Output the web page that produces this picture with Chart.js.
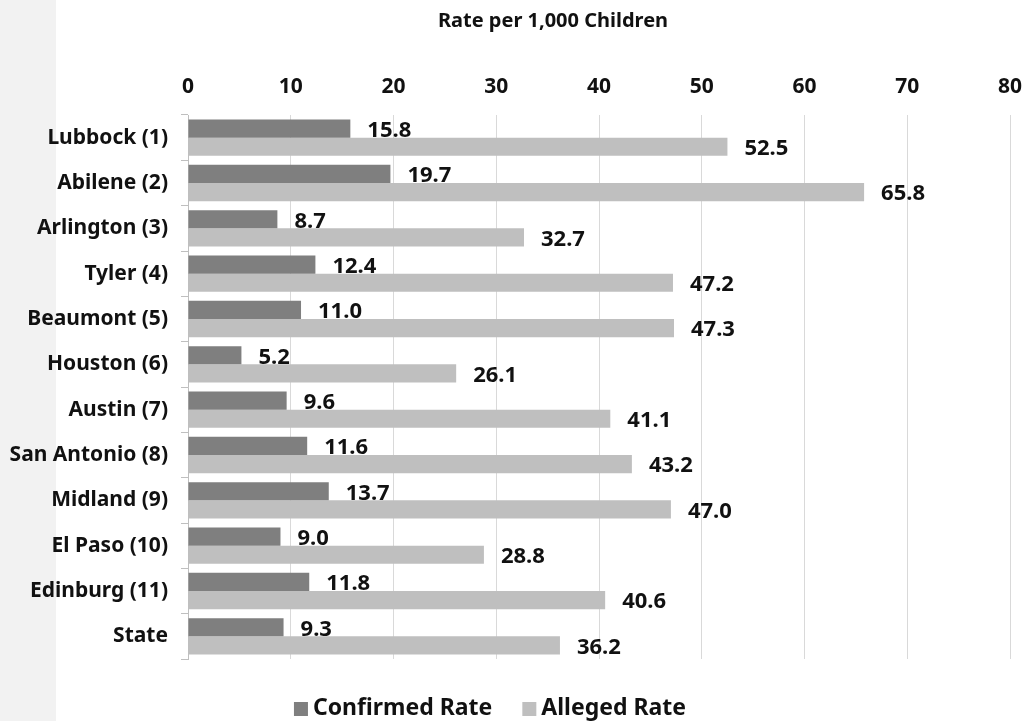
<!DOCTYPE html>
<html>
<head>
<meta charset="utf-8">
<title>Rate per 1,000 Children</title>
<script src="https://cdn.jsdelivr.net/npm/chart.js@4"></script>
<style>
  html, body { margin: 0; padding: 0; background: #fff; overflow: hidden; }
  #wrap { position: relative; width: 1026px; height: 721px; }
</style>
</head>
<body>
<div id="wrap"><canvas id="rateChart"></canvas></div>
<script>
// regions and rates
const regions = ['Lubbock (1)', 'Abilene (2)', 'Arlington (3)', 'Tyler (4)', 'Beaumont (5)', 'Houston (6)',
    'Austin (7)', 'San Antonio (8)', 'Midland (9)', 'El Paso (10)', 'Edinburg (11)', 'State'];
const confirmedRate = [15.8, 19.7, 8.7, 12.4, 11.0, 5.2, 9.6, 11.6, 13.7, 9.0, 11.8, 9.3];
const allegedRate = [52.5, 65.8, 32.7, 47.2, 47.3, 26.1, 41.1, 43.2, 47.0, 28.8, 40.6, 36.2];
const seriesNames = ['Confirmed Rate', 'Alleged Rate'];
const axisTitle = 'Rate per 1,000 Children';
const tickValues = [0, 10, 20, 30, 40, 50, 60, 70, 80];

const FONT = "'Noto Sans', 'DejaVu Sans', sans-serif";
const TEXT = '#111';

// gray strip on the left, title on top, legend at the bottom
const decorPlugin = {
    id: 'decor',
    beforeDraw(chart) {
        const c = chart.ctx;
        c.save();
        c.fillStyle = '#f2f2f2';
        c.fillRect(0, 0, 56, chart.height);
        c.restore();
    },
    afterDraw(chart) {
        const c = chart.ctx;
        c.save();
        c.fillStyle = TEXT;
        c.font = 'bold 20px ' + FONT;
        c.textAlign = 'center';
        c.textBaseline = 'alphabetic';
        c.fillText(axisTitle, 553, 27);

        // legend
        c.font = 'bold 23px ' + FONT;
        c.textAlign = 'left';
        const box = 14, gap = 5, between = 30;
        const items = chart.data.datasets.map(ds => ({ label: ds.label, color: ds.backgroundColor }));
        let total = 0;
        items.forEach((it, i) => {
            it.w = box + gap + c.measureText(it.label).width;
            total += it.w + (i ? between : 0);
        });
        let x = 490 - total / 2;
        items.forEach(it => {
            c.fillStyle = it.color;
            c.fillRect(x, 702, box, box);
            c.fillStyle = TEXT;
            c.fillText(it.label, x + box + gap, 715);
            x += it.w + between;
        });
        c.restore();
    }
};

function drawValues(chart, dsIndex, dy) {
    const c = chart.ctx;
    const meta = chart.getDatasetMeta(dsIndex);
    const values = chart.data.datasets[dsIndex].data;
    c.save();
    c.fillStyle = TEXT;
    c.font = 'bold 22px ' + FONT;
    c.textAlign = 'left';
    c.textBaseline = 'middle';
    meta.data.forEach((bar, i) => {
        c.fillText(values[i].toFixed(1), bar.x + 17, bar.y + dy);
    });
    c.restore();
}

// confirmed labels go under the alleged bars, alleged labels on top
const valueLabels = {
    id: 'valueLabels',
    beforeDatasetsDraw(chart) { drawValues(chart, 0, 2); },
    afterDatasetsDraw(chart) { drawValues(chart, 1, 2); }
};

const ctx = document.getElementById('rateChart').getContext('2d');
const rateChart = new Chart(ctx, {
    type: 'bar',
    data: {
        labels: regions,
        datasets: [
            { label: seriesNames[0], data: confirmedRate, backgroundColor: '#7f7f7f' },
            { label: seriesNames[1], data: allegedRate, backgroundColor: '#bfbfbf' }
        ]
    },
    options: {
        indexAxis: 'y',
        responsive: true,
        maintainAspectRatio: false,
        animation: false,
        datasets: { bar: { categoryPercentage: 0.8, barPercentage: 1.0, borderWidth: 0 } },
        layout: { padding: { top: 73, bottom: 62, right: 16, left: 0 } },
        scales: {
            x: {
                position: 'top',
                min: 0,
                max: 80,
                afterBuildTicks(scale) { scale.ticks = tickValues.map(v => ({ value: v })); },
                afterFit(scale) {
                    scale.height = 42;
                    scale.paddingLeft = 0;
                    scale.paddingRight = 0;
                },
                grid: { color: '#d9d9d9', drawTicks: false },
                border: { display: false },
                ticks: { color: TEXT, padding: 15, font: { family: FONT, size: 21, weight: 'bold' } }
            },
            y: {
                afterFit(scale) { scale.width = 188; },
                grid: { offset: true, drawOnChartArea: false, tickLength: 7, color: '#bfbfbf' },
                border: { color: '#bfbfbf' },
                ticks: { color: TEXT, padding: 13, font: { family: FONT, size: 21, weight: 'bold' } }
            }
        },
        plugins: {
            legend: { display: false },
            title: { display: false },
            tooltip: { enabled: false }
        }
    },
    plugins: [decorPlugin, valueLabels]
});
</script>
</body>
</html>
